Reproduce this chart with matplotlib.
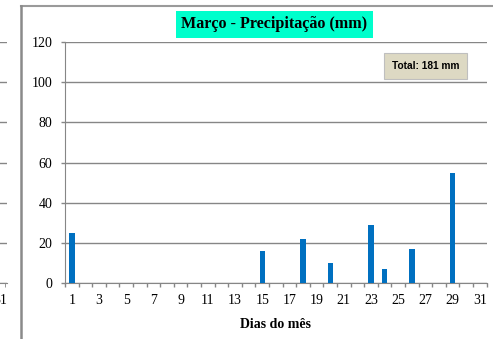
import numpy as np
import matplotlib
matplotlib.use("Agg")
import matplotlib.pyplot as plt
from matplotlib.lines import Line2D

# rainfall per day of March (mm)
days = list(range(1, 32))
rain_days = [1, 15, 18, 20, 23, 24, 26, 29]
rain_mm = [25, 16, 22, 10, 29, 7, 17, 55]
y_ticks = [0, 20, 40, 60, 80, 100, 120]
x_labels = [str(d) if d % 2 == 1 else "" for d in days]

title = "Março - Precipitação (mm)"
x_title = "Dias do mês"

W, H = 493, 339
GRID = "#868686"
SERIF = "Liberation Serif"

values = np.zeros(len(days))
for d, v in zip(rain_days, rain_mm):
    values[d - 1] = v
total = int(values.sum())

fig = plt.figure(figsize=(W / 100, H / 100), dpi=100)


def px(x0, y0, x1, y1):
    # pixel box (top-left origin) -> figure rect
    return [x0 / W, 1 - y1 / H, (x1 - x0) / W, (y1 - y0) / H]


def style_axes(ax):
    ax.set_ylim(0, 120)
    ax.set_yticks(y_ticks)
    ax.grid(axis="y", color=GRID, linewidth=1.0)
    ax.set_axisbelow(True)
    for s in ["top", "right"]:
        ax.spines[s].set_visible(False)
    ax.spines["left"].set_color(GRID)
    ax.spines["bottom"].set_color(GRID)
    ax.tick_params(axis="both", colors=GRID, length=3, width=1, labelcolor="black",
                   labelsize=10)
    for lab in ax.get_xticklabels() + ax.get_yticklabels():
        lab.set_fontfamily(SERIF)


# neighbouring chart, only its right edge shows
left = fig.add_axes(px(-300, 42, 7, 283))
left.bar(days, np.zeros(len(days)), width=0.4)
left.set_xlim(0.5, 31.7)
style_axes(left)
left.spines["left"].set_visible(False)
left.set_xticks(np.arange(0.5, 32.5, 1), minor=True)
left.set_xticks([31])
left.set_xticklabels(["31"], fontfamily=SERIF)
left.tick_params(axis="x", which="major", length=0, pad=8)
left.tick_params(axis="x", which="minor", length=3, colors=GRID)
left.set_yticklabels([])

# main chart
ax = fig.add_axes(px(65, 42, 486.7, 283))
ax.bar(days, values, width=0.4, color="#0070C0", zorder=3)
ax.set_xlim(0.5, 31.5)
style_axes(ax)
ax.set_yticklabels([str(t) for t in y_ticks], fontfamily=SERIF)
ax.set_xticks(days)
ax.set_xticklabels(x_labels, fontfamily=SERIF)
ax.set_xticks(np.arange(0.5, 32.5, 1), minor=True)
ax.tick_params(axis="x", which="major", length=0, pad=8)
ax.tick_params(axis="x", which="minor", length=3, width=1, colors=GRID)
ax.tick_params(axis="y", pad=6)
ax.set_xlabel(x_title, fontfamily=SERIF, fontweight="bold", fontsize=10, labelpad=8)

# panel border (top and left)
fig.add_artist(Line2D([21 / W, 1], [1 - 6 / H, 1 - 6 / H], color="#9a9a9a", linewidth=1.5))
fig.add_artist(Line2D([21 / W, 21 / W], [0, 1 - 6 / H], color="#8a8a8a", linewidth=1.8))

fig.text(274.5 / W, 1 - 24.5 / H, title, ha="center", va="center",
         fontfamily=SERIF, fontweight="bold", fontsize=11.6,
         bbox=dict(boxstyle="square,pad=0.35", facecolor="#00FFCC", edgecolor="none"))

ax.text(0.855, 0.9, f"Total: {total} mm", transform=ax.transAxes,
        ha="center", va="center", fontfamily="Liberation Sans", fontweight="bold", fontsize=7.3,
        bbox=dict(boxstyle="square,pad=0.75", facecolor="#DDD9C3", edgecolor="#BFBFBF",
                  linewidth=0.8))

fig.savefig("out.png", dpi=100)
